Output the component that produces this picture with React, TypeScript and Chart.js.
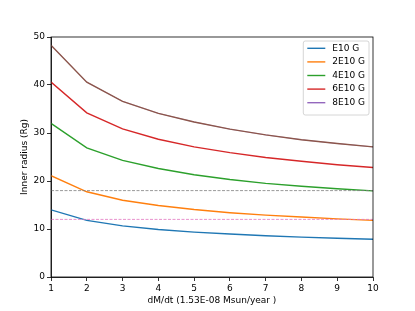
import React, { useEffect, useRef } from "react";
import { Chart, registerables } from "chart.js";

Chart.register(...registerables);

const xValues = [1, 2, 3, 4, 5, 6, 7, 8, 9, 10];
const seriesLabels = ["E10 G", "2E10 G", "4E10 G", "6E10 G", "8E10 G"];
const blueE10 = [14.0, 11.8, 10.65, 9.9, 9.35, 8.95, 8.6, 8.3, 8.08, 7.87];
const orangeE2 = [21.1, 17.75, 16.0, 14.9, 14.05, 13.4, 12.9, 12.5, 12.1, 11.8];
const greenE4 = [32.0, 26.9, 24.3, 22.6, 21.3, 20.3, 19.5, 18.9, 18.4, 17.95];
const redE6 = [40.6, 34.2, 30.85, 28.7, 27.1, 25.9, 24.9, 24.1, 23.4, 22.8];
const purpleE8 = [48.3, 40.6, 36.6, 34.1, 32.3, 30.8, 29.6, 28.6, 27.8, 27.1];
const brownE8 = [48.3, 40.6, 36.6, 34.1, 32.3, 30.8, 29.6, 28.6, 27.8, 27.1];
const grayLevel = [18, 18, 18, 18, 18, 18, 18, 18, 18, 18];
const pinkLevel = [12, 12, 12, 12, 12, 12, 12, 12, 12, 12];
const yTicks = [0, 10, 20, 30, 40, 50];

const FONT = "'DejaVu Sans', sans-serif";

const pts = (ys: number[]) => xValues.map((x, i) => ({ x, y: ys[i] }));

const framePlugin = {
  id: "frame",
  afterDatasetsDraw(chart: any) {
    const { ctx, chartArea } = chart;
    ctx.save();
    ctx.strokeStyle = "#000";
    ctx.lineWidth = 0.8;
    ctx.strokeRect(chartArea.left, chartArea.top, chartArea.right - chartArea.left, chartArea.bottom - chartArea.top);
    ctx.restore();
  },
};

const legendPlugin = {
  id: "mplLegend",
  afterDraw(chart: any) {
    const { ctx, chartArea } = chart;
    const items = chart.data.datasets.filter((d: any) => d.inLegend);
    ctx.save();
    ctx.font = `9px ${FONT}`;
    const textW = Math.max(...items.map((d: any) => ctx.measureText(d.label).width));
    const pad = 4;
    const handle = 18;
    const gap = 7;
    const rowH = 13.6;
    const w = pad + handle + gap + textW + pad;
    const h = rowH * items.length + 6;
    const x0 = chartArea.right - 4 - w;
    const y0 = chartArea.top + 4;
    ctx.fillStyle = "rgba(255,255,255,0.8)";
    ctx.strokeStyle = "#cccccc";
    ctx.lineWidth = 0.8;
    ctx.beginPath();
    ctx.roundRect(x0, y0, w, h, 2);
    ctx.fill();
    ctx.stroke();
    items.forEach((d: any, i: number) => {
      const cy = y0 + 7.3 + rowH * i;
      ctx.strokeStyle = d.borderColor;
      ctx.lineWidth = 1.4;
      ctx.beginPath();
      ctx.moveTo(x0 + pad, cy);
      ctx.lineTo(x0 + pad + handle, cy);
      ctx.stroke();
      ctx.fillStyle = "#000";
      ctx.textBaseline = "middle";
      ctx.textAlign = "left";
      ctx.fillText(d.label, x0 + pad + handle + gap, cy);
    });
    ctx.restore();
  },
};

export default function App() {
  const ref = useRef<HTMLCanvasElement>(null);
  useEffect(() => {
    if (!ref.current) return;
    const line = (label: string, ys: number[], color: string, order: number, inLegend: boolean, width = 1.4) => ({
      label,
      data: pts(ys),
      borderColor: color,
      backgroundColor: color,
      borderWidth: width,
      pointRadius: 0,
      tension: 0,
      order,
      inLegend,
    });
    const dashed = (ys: number[], color: string, order: number) => ({
      label: "",
      data: pts(ys),
      borderColor: color,
      borderWidth: 0.8,
      borderDash: [3, 1.5],
      pointRadius: 0,
      order,
      inLegend: false,
    });
    const chart = new Chart(ref.current, {
      type: "line",
      data: {
        datasets: [
          line(seriesLabels[0], blueE10, "#1f77b4", 8, true),
          line(seriesLabels[1], orangeE2, "#ff7f0e", 7, true),
          line(seriesLabels[2], greenE4, "#2ca02c", 6, true),
          line(seriesLabels[3], redE6, "#d62728", 5, true),
          line(seriesLabels[4], purpleE8, "#9467bd", 4, true, 0.5),
          line("", brownE8, "#8c564b", 3, false),
          dashed(pinkLevel, "#e377c2", 2),
          dashed(grayLevel, "#7f7f7f", 1),
        ] as any,
      },
      options: {
        animation: false,
        responsive: false,
        layout: { padding: { left: 0, top: 37, right: 42, bottom: 0 } },
        plugins: { legend: { display: false }, tooltip: { enabled: false } },
        scales: {
          x: {
            type: "linear",
            min: 1,
            max: 10,
            afterFit: (s: any) => { s.height = 34; },
            afterBuildTicks: (s: any) => { s.ticks = xValues.map((v) => ({ value: v })); },
            ticks: { color: "#000", font: { family: FONT, size: 9 }, padding: 2, maxRotation: 0 },
            grid: { display: true, drawOnChartArea: false, drawTicks: true, tickLength: 4, color: "#000", lineWidth: 0.8 },
            border: { display: true, color: "#000", width: 0.8 },
            title: {
              display: true,
              text: "dM/dt (1.53E-08 Msun/year )",
              color: "#000",
              font: { family: FONT, size: 9 },
              padding: { top: 0, bottom: 5 },
            },
          },
          y: {
            min: 0,
            max: 50,
            afterFit: (s: any) => { s.width = 51; },
            afterBuildTicks: (s: any) => { s.ticks = yTicks.map((v) => ({ value: v })); },
            ticks: { color: "#000", font: { family: FONT, size: 9 }, padding: 2 },
            grid: { display: true, drawOnChartArea: false, drawTicks: true, tickLength: 4, color: "#000", lineWidth: 0.8 },
            border: { display: true, color: "#000", width: 0.8 },
            title: {
              display: true,
              text: "Inner radius (Rg)",
              color: "#000",
              font: { family: FONT, size: 9 },
              padding: { top: 19.5, bottom: 0 },
            },
          },
        },
      },
      plugins: [framePlugin, legendPlugin],
    });
    return () => chart.destroy();
  }, []);
  return (
    <div style={{ position: "absolute", left: 0, top: 0, width: 415, height: 311, background: "#fff" }}>
      <canvas ref={ref} width={415} height={311} />
    </div>
  );
}
